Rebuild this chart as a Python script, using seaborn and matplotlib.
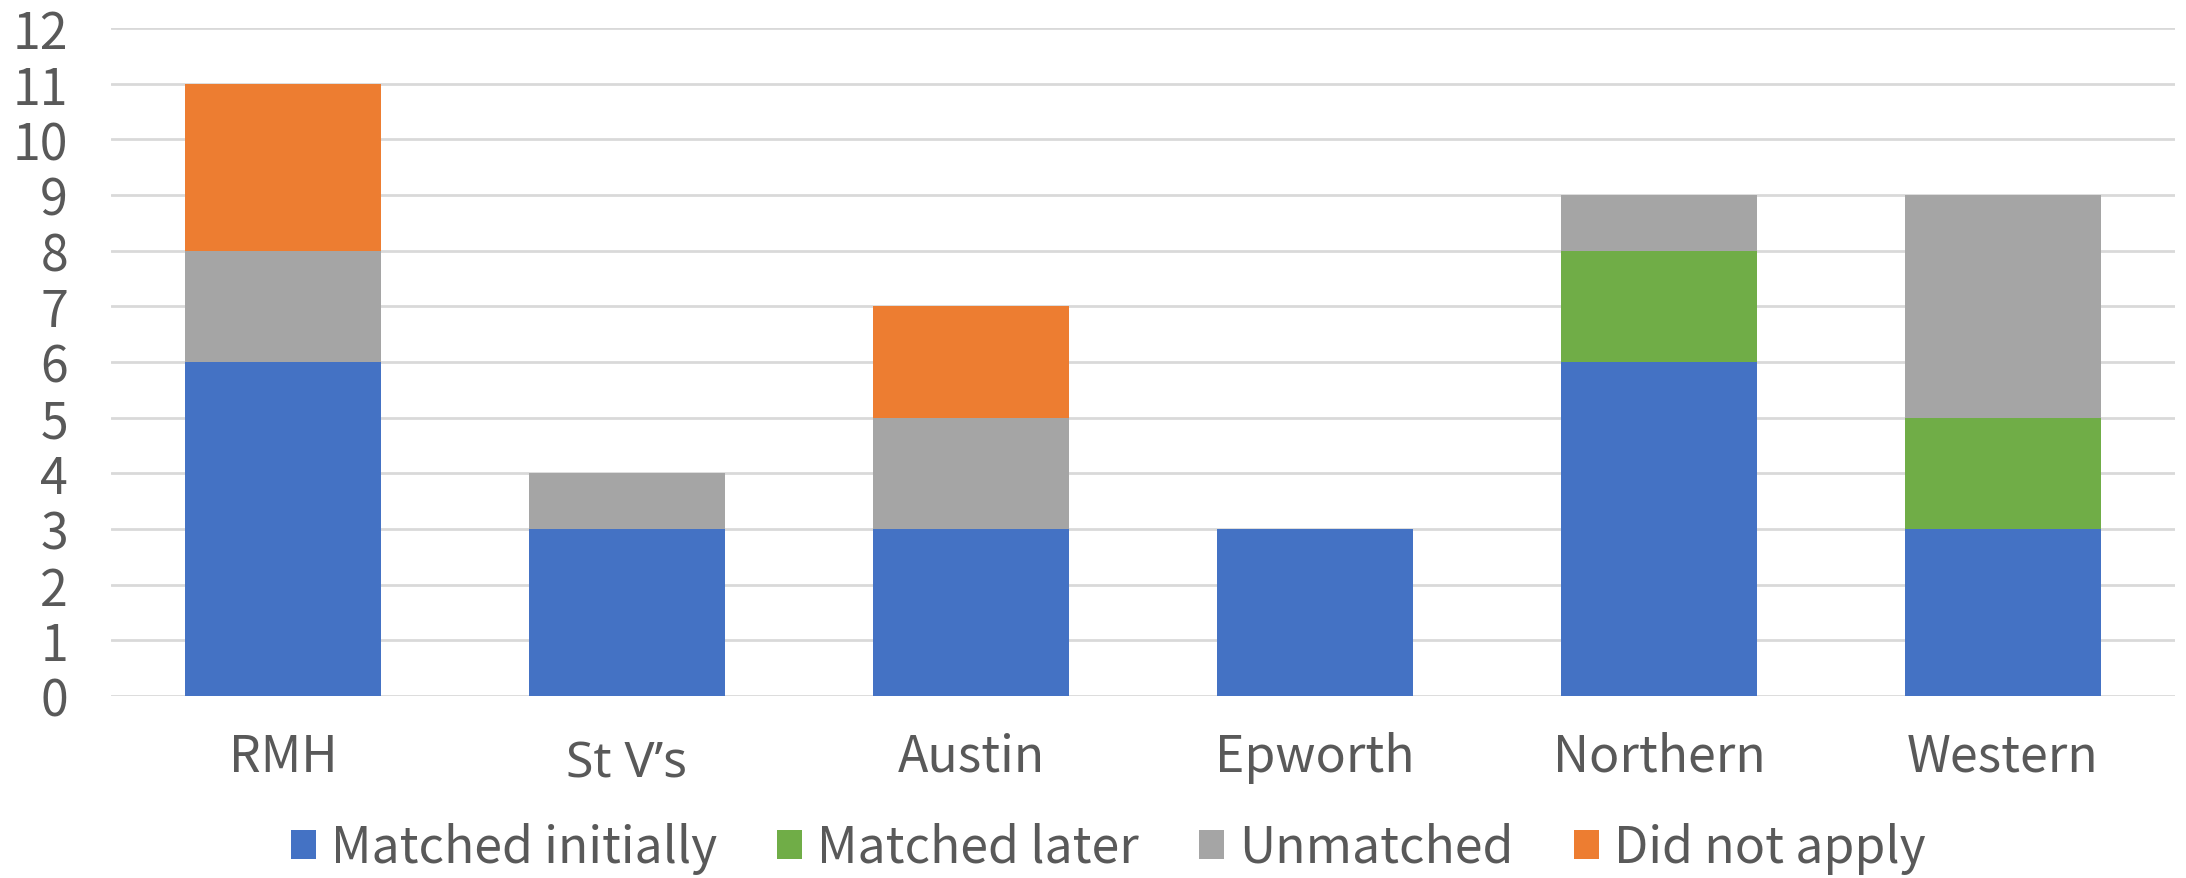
import numpy as np
import pandas as pd
import matplotlib
matplotlib.use("Agg")
import matplotlib.pyplot as plt
import matplotlib.transforms as mtransforms
from matplotlib.patches import Patch
import seaborn as sns

# chart data
hospitals = ["RMH", "St V\u2019s", "Austin", "Epworth", "Northern", "Western"]
matched_initially = [6, 3, 3, 3, 6, 3]
matched_later = [0, 0, 0, 0, 2, 2]
unmatched = [2, 1, 2, 0, 1, 4]
did_not_apply = [3, 0, 2, 0, 0, 0]

series_names = ["Matched initially", "Matched later", "Unmatched", "Did not apply"]
series_colors = ["#4472C4", "#70AD47", "#A5A5A5", "#ED7D31"]
y_ticks = list(range(0, 13))

sns.set_theme(style="white")
plt.rcParams["font.family"] = ["Noto Sans CJK SC", "DejaVu Sans"]
plt.rcParams["font.weight"] = "light"
text_color = "#595959"

df = pd.DataFrame({
    "hospital": hospitals,
    series_names[0]: matched_initially,
    series_names[1]: matched_later,
    series_names[2]: unmatched,
    series_names[3]: did_not_apply,
})
# cumulative tops so the stack can be drawn back to front
cum = df[series_names].cumsum(axis=1)

fig = plt.figure(figsize=(21.86, 8.79), dpi=100)
ax = fig.add_axes([111 / 2186, 1 - 697 / 879, (2175 - 111) / 2186, (697 - 29) / 879])

for name, color in reversed(list(zip(series_names, series_colors))):
    sns.barplot(x=df["hospital"], y=cum[name], color=color, width=0.57,
                saturation=1, linewidth=0, order=hospitals, ax=ax, zorder=3)

ax.set_ylim(0, 12)
ax.set_xlim(-0.5, len(hospitals) - 0.5)
ax.set_yticks(y_ticks)
ax.yaxis.grid(True, color="#D9D9D9", linewidth=2, zorder=0)
ax.set_axisbelow(True)
for s in ax.spines.values():
    s.set_visible(False)
ax.set_xlabel("")
ax.set_ylabel("")
ax.tick_params(axis="both", length=0, labelsize=36, labelcolor=text_color)
ax.tick_params(axis="x", pad=25)
ax.tick_params(axis="y", pad=31)

# the St V's label uses a Latin font for the apostrophe and sits a little lower
for lab in ax.get_xticklabels():
    if lab.get_text().startswith("St"):
        lab.set_fontfamily(["Noto Sans", "DejaVu Sans"])
        lab.set_transform(lab.get_transform() + mtransforms.ScaledTranslation(0, -8 / 100, fig.dpi_scale_trans))

handles = [Patch(facecolor=c, edgecolor="none", label=n) for n, c in zip(series_names, series_colors)]
fig.legend(handles=handles, loc="center", bbox_to_anchor=(0.507, 1 - 849 / 879), ncol=4,
           frameon=False, fontsize=36, labelcolor=text_color, handlelength=0.5,
           handleheight=0.5, handletextpad=0.3, columnspacing=1.2)

fig.savefig("out.png", dpi=100, facecolor="white")
